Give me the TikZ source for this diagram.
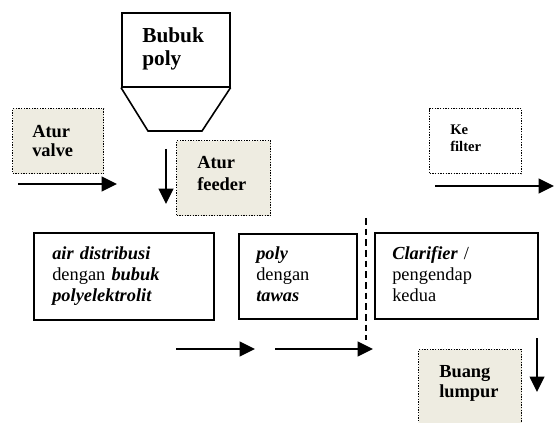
\documentclass[tikz,border=0pt]{standalone}
\usepackage{fontspec}
\setmainfont{Liberation Serif}
\usetikzlibrary{arrows.meta}
\definecolor{panel}{HTML}{EEECE1}

\begin{document}
\begin{tikzpicture}[x=0.75pt,y=-0.75pt,
		procbox/.style={draw,line width=1.2pt,anchor=north west,inner sep=0pt},
		notebox/.style={draw,fill=panel,line width=1pt,dash pattern=on 1pt off 1pt,anchor=north west,inner sep=0pt},
		boxtext/.style={anchor=base west,inner sep=0pt,text width=140pt,align=left,font=\fontsize{13.8}{15.75}\selectfont},
		notetext/.style={anchor=base west,inner sep=0pt,text width=60pt,align=left,font=\fontsize{13.8}{14.5}\selectfont\bfseries},
		flow/.style={line width=1.2pt,-{Triangle[length=11.5pt,width=11pt]}}
		]
		\useasboundingbox (0,0) rectangle (555,423);
		\clip (0,0) rectangle (555,423);

		% hopper
		\node[procbox, minimum width=81pt, minimum height=55.5pt](hopper) at (121,12){};
		\coordinate (HL) at (148,131);
		\coordinate (HR) at (202,131);
		\draw[line width=1.2pt] (hopper.south west) -- (HL) -- (HR) -- (hopper.south east);
		\node[boxtext, font=\fontsize{16}{17.25}\selectfont\bfseries](bubuk) at (142,43){Bubuk\\poly};

		% side notes
		\node[notebox, minimum width=68.25pt, minimum height=48.75pt](valve) at (12,108){};
		\node[notetext, font=\fontsize{13.8}{14.25}\selectfont\bfseries](valvetxt) at (32,138){Atur\\valve};
		\node[notebox, minimum width=70.5pt, minimum height=56.25pt](feeder) at (176,140){};
		\node[notetext, font=\fontsize{13.8}{16.5}\selectfont\bfseries](feedertxt) at (197,169){Atur\\feeder};
		\node[notebox, fill=none, minimum width=69pt, minimum height=48.75pt](filter) at (429,108){};
		\node[notetext, font=\fontsize{11}{12.75}\selectfont\bfseries](filtertxt) at (450,135){Ke\\filter};
		\node[notebox, minimum width=77.25pt, minimum height=60.75pt](buang) at (418,349){};
		\node[notetext, font=\fontsize{13.8}{15}\selectfont\bfseries](buangtxt) at (439,377){Buang\\lumpur};

		% process boxes
		\node[procbox, minimum width=135pt, minimum height=65.25pt](mix1) at (33,232){};
		\node[boxtext](mix1txt) at (52,260){\textbf{\textit{air distribusi}}\\dengan \textbf{\textit{bubuk}}\\\textbf{\textit{polyelektrolit}}};
		\node[procbox, minimum width=88.5pt, minimum height=63.75pt](mix2) at (238,233){};
		\node[boxtext](mix2txt) at (256,260){\textbf{\textit{poly}}\\dengan\\\textbf{\textit{tawas}}};
		\node[procbox, minimum width=122.25pt, minimum height=64.5pt](clar) at (374,232){};
		\node[boxtext](clartxt) at (392,260){\textbf{\textit{Clarifier}} /\\pengendap\\kedua};

		% flow arrows
		\coordinate (v0) at (18,184);   \coordinate (v1) at (117,184);
		\coordinate (f0) at (166,149);  \coordinate (f1) at (166,204);
		\coordinate (k0) at (435,186);  \coordinate (k1) at (554,186);
		\coordinate (m0) at (176,349);  \coordinate (m1) at (255,349);
		\coordinate (t0) at (275,349);  \coordinate (t1) at (373,349);
		\coordinate (b0) at (537,338);  \coordinate (b1) at (537,392);
		\draw[flow] (v0) -- (v1);
		\draw[flow] (f0) -- (f1);
		\draw[flow] (k0) -- (k1);
		\draw[flow] (m0) -- (m1);
		\draw[flow] (t0) -- (t1);
		\draw[flow] (b0) -- (b1);

		\coordinate (d0) at (366,218);
		\coordinate (d1) at (366,340);
		\draw[line width=1pt, dash pattern=on 5pt off 3pt] (d0) -- (d1);
	\end{tikzpicture}
\end{document}
